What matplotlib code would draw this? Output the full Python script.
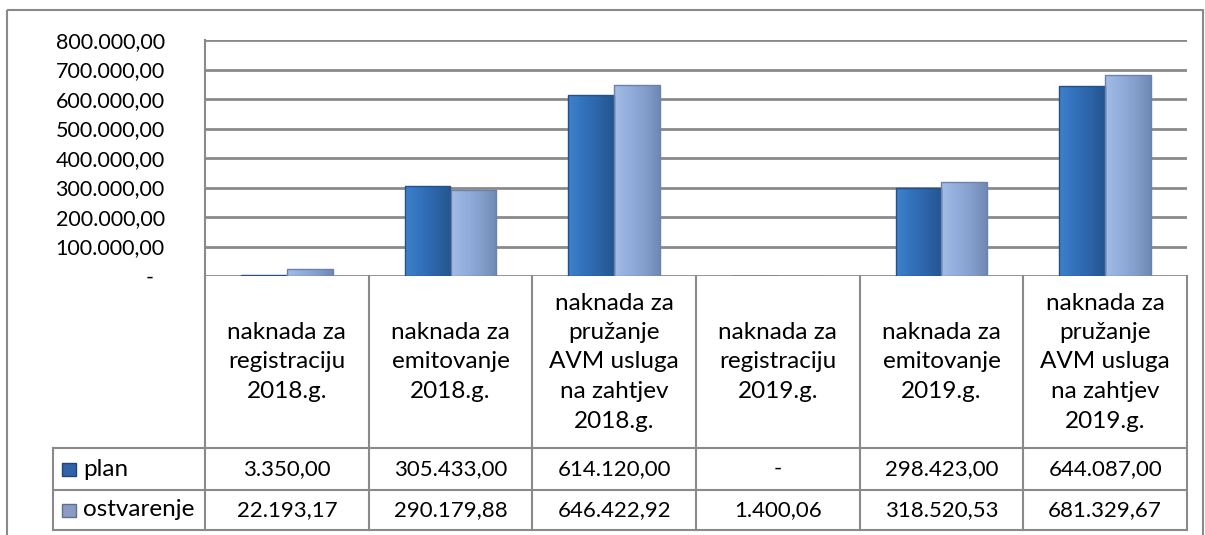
import numpy as np
import matplotlib
matplotlib.use("Agg")
import matplotlib.pyplot as plt
import matplotlib.transforms as mtransforms
from matplotlib.patches import Rectangle
from matplotlib.colors import LinearSegmentedColormap

# data
categories = [
    "naknada za\nregistraciju\n2018.g.",
    "naknada za\nemitovanje\n2018.g.",
    "naknada za\npružanje\nAVM usluga\nna zahtjev\n2018.g.",
    "naknada za\nregistraciju\n2019.g.",
    "naknada za\nemitovanje\n2019.g.",
    "naknada za\npružanje\nAVM usluga\nna zahtjev\n2019.g.",
]
plan = [3350.00, 305433.00, 614120.00, 0.0, 298423.00, 644087.00]
ostvarenje = [22193.17, 290179.88, 646422.92, 1400.06, 318520.53, 681329.67]
plan_labels = ["3.350,00", "305.433,00", "614.120,00", "-", "298.423,00", "644.087,00"]
ostv_labels = ["22.193,17", "290.179,88", "646.422,92", "1.400,06", "318.520,53", "681.329,67"]
series_names = ["plan", "ostvarenje"]
yticks = [0, 100000, 200000, 300000, 400000, 500000, 600000, 700000, 800000]

plt.rcParams['font.family'] = ['Lato', 'DejaVu Sans']

W, H = 1205, 535
fig = plt.figure(figsize=(W / 100, H / 100), dpi=100)

# overlay axes in pixel coordinates for frame + table
over = fig.add_axes([0, 0, 1, 1])
over.set_xlim(0, W)
over.set_ylim(H, 0)
over.axis("off")

# plot area (pixels: x 205-1187, y 40-276)
x0, x1, y0, y1 = 205, 1187, 40, 276
ax = fig.add_axes([x0 / W, 1 - y1 / H, (x1 - x0) / W, (y1 - y0) / H])
ax.set_zorder(over.get_zorder() + 1)
ax.patch.set_alpha(0)

grid_col = "#8a8a8a"
n = len(categories)
x = np.arange(n)
bw = 0.28

cm_plan = LinearSegmentedColormap.from_list("p", ["#3f80cc", "#3272bd", "#2c64a8", "#24558f"])
cm_ostv = LinearSegmentedColormap.from_list("o", ["#a3bce6", "#93aedd", "#859fcc", "#6f88b4"])
grad = np.linspace(0, 1, 64).reshape(1, -1)

def gradient_bars(bars, cmap):
    for b in bars:
        bx, by = b.get_x(), b.get_y()
        bwid, bh = b.get_width(), b.get_height()
        if bh <= 0:
            continue
        im = ax.imshow(grad, cmap=cmap, aspect="auto", extent=[bx, bx + bwid, by, by + bh],
                       zorder=3, interpolation="bicubic")
        im.set_clip_path(b)

b1 = ax.bar(x - bw / 2, plan, bw, color="#3272bd", edgecolor="#24508a", linewidth=1.0, zorder=4)
b2 = ax.bar(x + bw / 2, ostvarenje, bw, color="#93aedd", edgecolor="#6a82ad", linewidth=1.0, zorder=4)
gradient_bars(b1, cm_plan)
gradient_bars(b2, cm_ostv)
for b in list(b1) + list(b2):
    b.set_facecolor("none")

ax.set_xlim(-0.5, n - 0.5)
ax.set_ylim(0, 800000)
ax.set_yticks(yticks)
ax.set_yticklabels(["-  " if v == 0 else f"{v:,.2f}".replace(",", "X").replace(".", ",").replace("X", ".")
                    for v in yticks])
ax.tick_params(axis="y", length=0, pad=29, labelsize=15.5, colors="black")
ax.tick_params(axis="x", length=0, labelbottom=False)
ax.grid(axis="y", color=grid_col, linewidth=2, zorder=0)
for s in ["top", "right", "bottom"]:
    ax.spines[s].set_visible(False)
ax.spines["left"].set_color(grid_col)
ax.spines["left"].set_linewidth(1.5)

# outer frame
over.add_patch(Rectangle((7, 10), 1196, 540, fill=False, edgecolor="#8a8a8a", linewidth=1.5))

# data table below the plot
bt = mtransforms.blended_transform_factory(ax.transData, over.transData)
lc = "#8a8a8a"
lw = 1.5
row_top, row1, row2, row_bot = 276, 448, 490, 530
for b in np.arange(n + 1) - 0.5:
    over.plot([b, b], [row_top, row_bot], transform=bt, color=lc, lw=lw, clip_on=False)
for yy in [row1, row2, row_bot]:
    over.plot([53, x1], [yy, yy], color=lc, lw=lw)
over.plot([53, 53], [row1, row_bot], color=lc, lw=lw)

fs = 16
for i, lab in enumerate(categories):
    over.text(i, (row_top + row1) / 2, lab, transform=bt, ha="center", va="center",
              fontsize=17.5, linespacing=1.5)
    over.text(i, (row1 + row2) / 2, plan_labels[i], transform=bt, ha="center", va="center", fontsize=fs)
    over.text(i, (row2 + row_bot) / 2, ostv_labels[i], transform=bt, ha="center", va="center", fontsize=fs)

key_cols = [("#2f62a8", "#1f4475"), ("#8a9cc4", "#5f6f90")]
for j, (name, yc) in enumerate(zip(series_names, [(row1 + row2) / 2, (row2 + row_bot) / 2])):
    over.add_patch(Rectangle((62, yc - 6), 14, 13, facecolor=key_cols[j][0], edgecolor=key_cols[j][1], lw=1))
    over.text(83, yc, name, ha="left", va="center", fontsize=17.5)

fig.savefig("out.png", dpi=100)
